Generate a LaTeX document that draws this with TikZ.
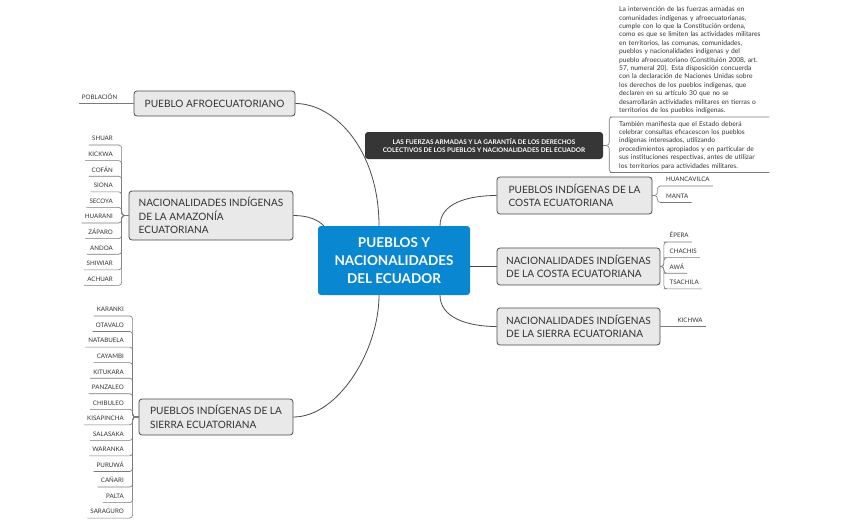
\documentclass[tikz,border=0pt]{standalone}
\usepackage{fontspec}
\setmainfont{Lato}
\usepackage{tikz}

\definecolor{boxfill}{HTML}{E9E9E9}
\definecolor{boxline}{HTML}{4A4A4A}
\definecolor{coreblue}{HTML}{0A87D1}
\definecolor{darkfill}{HTML}{363636}
\definecolor{inktext}{HTML}{333333}
\definecolor{twigline}{HTML}{7A7A7A}

\tikzset{
  topic/.style={draw=boxline, fill=boxfill, rounded corners=3pt, line width=0.8pt,
    text=inktext, font=\fontsize{10.1}{13.7}\selectfont, align=left, inner sep=0pt},
  core/.style={fill=coreblue, rounded corners=3pt, text=white,
    font=\bfseries\fontsize{13.5}{18}\selectfont, align=center, inner sep=0pt},
  banner/.style={fill=darkfill, rounded corners=3pt, text=white,
    font=\bfseries\fontsize{6.4}{8}\selectfont, align=center, inner sep=0pt},
  leaf/.style={font=\fontsize{6.2}{7}\selectfont, text=inktext, inner xsep=3pt,
    inner ysep=3pt, text height=4.5pt, text depth=1pt},
  note/.style={font=\fontsize{6.7}{8.4}\selectfont, text=inktext, inner xsep=6pt,
    inner ysep=3pt, text width=144pt, align=left},
  link/.style={draw=boxline, line width=0.8pt},
  twig/.style={draw=twigline, line width=0.6pt, rounded corners=3pt}
}

\begin{document}
\begin{tikzpicture}[x=1pt,y=-1pt]
    \useasboundingbox (0,0) rectangle (847,525);
    %(0)
    \node[core, minimum width=152pt, minimum height=69pt] (core) at (394,260.5)
      {PUEBLOS Y\\NACIONALIDADES\\DEL ECUADOR};
    \node[banner, minimum width=238pt, minimum height=27pt] (fuerzas) at (484,145.5)
      {LAS FUERZAS ARMADAS Y LA GARANTÍA DE LOS DERECHOS\\COLECTIVOS DE LOS PUEBLOS Y NACIONALIDADES DEL ECUADOR};
    %(1)
    \node[topic, minimum width=161pt, minimum height=25pt] (afro) at (214.5,103.5)
      {PUEBLO AFROECUATORIANO};
    \node[leaf, anchor=south east] (poblacion) at ([xshift=-13pt]afro.west) {POBLACIÓN};
    \draw[twig] (afro.west) -- (poblacion.south east) -- (poblacion.south west);
    \draw[link] (afro.east) .. controls +(40,0) and +(0,-75) .. ([xshift=-15pt]core.north);
    %(2)
    \node[topic, minimum width=164pt, minimum height=49pt] (amazonia) at (211,215.5)
      {NACIONALIDADES INDÍGENAS\\DE LA AMAZONÍA\\ECUATORIANA};
    \node[leaf, anchor=south east] (shuar) at (116,145) {SHUAR};
    \node[leaf, anchor=south east] (kickwa) at (116,160.6) {KICKWA};
    \node[leaf, anchor=south east] (cofan) at (116,176.2) {COFÁN};
    \node[leaf, anchor=south east] (siona) at (116,191.8) {SIONA};
    \node[leaf, anchor=south east] (secoya) at (116,207.4) {SECOYA};
    \node[leaf, anchor=south east] (huarani) at (116,223) {HUARANI};
    \node[leaf, anchor=south east] (zaparo) at (116,238.6) {ZÁPARO};
    \node[leaf, anchor=south east] (andoa) at (116,254.2) {ANDOA};
    \node[leaf, anchor=south east] (shiwiar) at (116,269.8) {SHIWIAR};
    \node[leaf, anchor=south east] (achuar) at (116,285.4) {ACHUAR};
    \draw[twig] (amazonia.west) -- ++(-7,0) |- (shuar.south east) -- (shuar.south west);
    \draw[twig] (amazonia.west) -- ++(-7,0) |- (kickwa.south east) -- (kickwa.south west);
    \draw[twig] (amazonia.west) -- ++(-7,0) |- (cofan.south east) -- (cofan.south west);
    \draw[twig] (amazonia.west) -- ++(-7,0) |- (siona.south east) -- (siona.south west);
    \draw[twig] (amazonia.west) -- ++(-7,0) |- (secoya.south east) -- (secoya.south west);
    \draw[twig] (amazonia.west) -- ++(-7,0) |- (huarani.south east) -- (huarani.south west);
    \draw[twig] (amazonia.west) -- ++(-7,0) |- (zaparo.south east) -- (zaparo.south west);
    \draw[twig] (amazonia.west) -- ++(-7,0) |- (andoa.south east) -- (andoa.south west);
    \draw[twig] (amazonia.west) -- ++(-7,0) |- (shiwiar.south east) -- (shiwiar.south west);
    \draw[twig] (amazonia.west) -- ++(-7,0) |- (achuar.south east) -- (achuar.south west);
    \draw[link] (amazonia.east) .. controls +(15,0) and +(-6,-6) .. ([xshift=6pt]core.north west);
    %(3)
    \node[topic, minimum width=154pt, minimum height=36pt] (sierrap) at (216,417)
      {PUEBLOS INDÍGENAS DE LA\\SIERRA ECUATORIANA};
    \node[leaf, anchor=south east] (karanki) at (127,316) {KARANKI};
    \node[leaf, anchor=south east] (otavalo) at (127,331.5) {OTAVALO};
    \node[leaf, anchor=south east] (natabuela) at (127,347.1) {NATABUELA};
    \node[leaf, anchor=south east] (cayambi) at (127,362.6) {CAYAMBI};
    \node[leaf, anchor=south east] (kitukara) at (127,378.2) {KITUKARA};
    \node[leaf, anchor=south east] (panzaleo) at (127,393.7) {PANZALEO};
    \node[leaf, anchor=south east] (chibuleo) at (127,409.3) {CHIBULEO};
    \node[leaf, anchor=south east] (kisapincha) at (127,424.8) {KISAPINCHA};
    \node[leaf, anchor=south east] (salasaka) at (127,440.4) {SALASAKA};
    \node[leaf, anchor=south east] (waranka) at (127,455.9) {WARANKA};
    \node[leaf, anchor=south east] (puruwa) at (127,471.5) {PURUWÁ};
    \node[leaf, anchor=south east] (canari) at (127,487) {CAÑARI};
    \node[leaf, anchor=south east] (palta) at (127,502.6) {PALTA};
    \node[leaf, anchor=south east] (saraguro) at (127,518.1) {SARAGURO};
    \draw[twig] (sierrap.west) -- ++(-6,0) |- (karanki.south east) -- (karanki.south west);
    \draw[twig] (sierrap.west) -- ++(-6,0) |- (otavalo.south east) -- (otavalo.south west);
    \draw[twig] (sierrap.west) -- ++(-6,0) |- (natabuela.south east) -- (natabuela.south west);
    \draw[twig] (sierrap.west) -- ++(-6,0) |- (cayambi.south east) -- (cayambi.south west);
    \draw[twig] (sierrap.west) -- ++(-6,0) |- (kitukara.south east) -- (kitukara.south west);
    \draw[twig] (sierrap.west) -- ++(-6,0) |- (panzaleo.south east) -- (panzaleo.south west);
    \draw[twig] (sierrap.west) -- ++(-6,0) |- (chibuleo.south east) -- (chibuleo.south west);
    \draw[twig] (sierrap.west) -- ++(-6,0) |- (kisapincha.south east) -- (kisapincha.south west);
    \draw[twig] (sierrap.west) -- ++(-6,0) |- (salasaka.south east) -- (salasaka.south west);
    \draw[twig] (sierrap.west) -- ++(-6,0) |- (waranka.south east) -- (waranka.south west);
    \draw[twig] (sierrap.west) -- ++(-6,0) |- (puruwa.south east) -- (puruwa.south west);
    \draw[twig] (sierrap.west) -- ++(-6,0) |- (canari.south east) -- (canari.south west);
    \draw[twig] (sierrap.west) -- ++(-6,0) |- (palta.south east) -- (palta.south west);
    \draw[twig] (sierrap.west) -- ++(-6,0) |- (saraguro.south east) -- (saraguro.south west);
    \draw[link] ([xshift=-15pt]core.south) .. controls +(0,55) and +(45,0) .. (sierrap.east);
    %(4)
    \node[topic, minimum width=155pt, minimum height=37pt] (costap) at (574.5,195.5)
      {PUEBLOS INDÍGENAS DE LA\\COSTA ECUATORIANA};
    \node[leaf, anchor=south west] (huancavilca) at (663,186) {HUANCAVILCA};
    \node[leaf, anchor=south west] (manta) at (663,202.5) {MANTA};
    \draw[twig] (costap.east) -- ++(5,0) |- (huancavilca.south west) -- (huancavilca.south east);
    \draw[twig] (costap.east) -- ++(5,0) |- (manta.south west) -- (manta.south east);
    \draw[link] ([xshift=46pt]core.north) .. controls +(0,-22) and +(-30,0) .. (costap.west);
    %(5)
    \node[topic, minimum width=163pt, minimum height=37pt] (costan) at (578.5,266.5)
      {NACIONALIDADES INDÍGENAS\\DE LA COSTA ECUATORIANA};
    \node[leaf, anchor=south west] (epera) at (666.5,242) {ÉPERA};
    \node[leaf, anchor=south west] (chachis) at (666.5,257.6) {CHACHIS};
    \node[leaf, anchor=south west] (awa) at (666.5,273.2) {AWÁ};
    \node[leaf, anchor=south west] (tsachila) at (666.5,288.8) {TSACHILA};
    \draw[twig] (costan.east) -- ++(3.5,0) |- (epera.south west) -- (epera.south east);
    \draw[twig] (costan.east) -- ++(3.5,0) |- (chachis.south west) -- (chachis.south east);
    \draw[twig] (costan.east) -- ++(3.5,0) |- (awa.south west) -- (awa.south east);
    \draw[twig] (costan.east) -- ++(3.5,0) |- (tsachila.south west) -- (tsachila.south east);
    \draw[link] (core.east |- costan.west) -- (costan.west);
    %(6)
    \node[topic, minimum width=163pt, minimum height=37pt] (sierran) at (578.5,326.5)
      {NACIONALIDADES INDÍGENAS\\DE LA SIERRA ECUATORIANA};
    \node[leaf, anchor=south west] (kichwa) at ([xshift=14pt]sierran.east) {KICHWA};
    \draw[twig] (sierran.east) -- (kichwa.south west) -- (kichwa.south east);
    \draw[link] ([xshift=46pt]core.south) .. controls +(0,22) and +(-30,0) .. (sierran.west);
    %(7)
    \node[note, anchor=south west] (nota) at (613,117)
      {La intervención de las fuerzas armadas en\\
       comunidades indígenas y afroecuatorianas,\\
       cumple con lo que la Constitución ordena,\\
       como es que se limiten las actividades militares\\
       en territorios, las comunas, comunidades,\\
       pueblos y nacionalidades indígenas y del\\
       pueblo afroecuatoriano (Constituión 2008, art.\\
       57, numeral 20). Esta disposición concuerda\\
       con la declaración de Naciones Unidas sobre\\
       los derechos de los pueblos indígenas, que\\
       declaren en su artículo 30 que no se\\
       desarrollarán actividades militares en tierras o\\
       territorios de los pueblos indígenas.};
    \node[note, anchor=south west] (consulta) at (613,172.5)
      {También manifiesta que el Estado deberá\\
       celebrar consultas eficacescon los pueblos\\
       indígenas interesados, utilizando\\
       procedimientos apropiados y en particular de\\
       sus instituciones respectivas, antes de utilizar\\
       los territorios para actividades militares.};
    \draw[twig] (fuerzas.east) -- ++(6,0) |- (nota.south west) -- (nota.south east);
    \draw[twig] (fuerzas.east) -- ++(6,0) |- (consulta.south west) -- (consulta.south east);
\end{tikzpicture}
\end{document}
